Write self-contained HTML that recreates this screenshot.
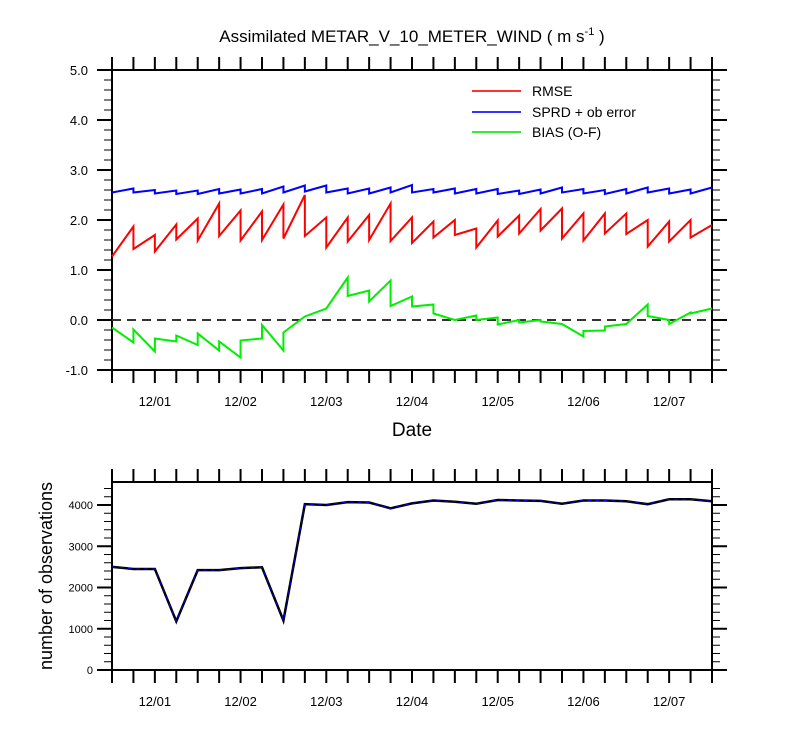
<!DOCTYPE html>
<html><head><meta charset="utf-8"><style>
body{margin:0;background:#fff}
svg{display:block;font-family:"Liberation Sans",sans-serif}
</style></head><body>
<svg id="chart" width="800" height="750" xmlns="http://www.w3.org/2000/svg"></svg>
<script>
const dayLabels=["12/01","12/02","12/03","12/04","12/05","12/06","12/07"];
const rmseF=[null,1.87,1.70,1.91,2.03,2.33,2.19,2.17,2.31,2.50,2.05,2.05,2.10,2.33,2.05,1.97,2.00,1.83,1.99,2.09,2.22,2.23,2.13,2.13,2.13,2.00,1.97,2.00,1.90];
const rmseA=[1.27,1.42,1.37,1.61,1.59,1.68,1.59,1.60,1.63,1.68,1.45,1.57,1.60,1.58,1.54,1.65,1.70,1.45,1.67,1.73,1.79,1.63,1.59,1.73,1.72,1.47,1.57,1.65,null];
const sprdF=[null,2.63,2.60,2.59,2.59,2.62,2.61,2.62,2.67,2.69,2.69,2.63,2.63,2.65,2.70,2.62,2.63,2.62,2.62,2.59,2.61,2.65,2.62,2.60,2.62,2.65,2.63,2.61,2.65];
const sprdA=[2.55,2.55,2.53,2.52,2.52,2.53,2.53,2.53,2.55,2.57,2.55,2.53,2.53,2.55,2.55,2.55,2.53,2.53,2.52,2.52,2.53,2.55,2.53,2.52,2.53,2.55,2.53,2.53,null];
const biasF=[null,-0.45,-0.63,-0.43,-0.50,-0.61,-0.75,-0.37,-0.61,0.07,0.23,0.85,0.59,0.79,0.47,0.31,0.00,0.09,0.05,0.00,0.00,-0.08,-0.33,-0.21,-0.08,0.31,0.00,0.15,0.23];
const biasA=[-0.15,-0.19,-0.37,-0.31,-0.27,-0.43,-0.41,-0.10,-0.25,0.07,0.23,0.48,0.37,0.28,0.27,0.13,0.00,0.00,-0.09,-0.05,-0.03,-0.08,-0.22,-0.13,-0.08,0.08,-0.08,0.13,null];
const nobs=[2500,2450,2450,1180,2420,2420,2470,2490,1200,4020,4000,4070,4060,3920,4040,4110,4080,4030,4120,4110,4100,4030,4110,4110,4090,4020,4140,4140,4090];
const yTicksTop=["5.0","4.0","3.0","2.0","1.0","0.0","-1.0"];
const yTicksBot=[0,1000,2000,3000,4000];

const svg=document.getElementById('chart');
const NS="http://www.w3.org/2000/svg";
function mk(t,a,name){const e=document.createElementNS(NS,t);for(const k in a)e.setAttribute(k,a[k]);


svg.appendChild(e);return e;}
const X0=112,X1=712,N=28;
const xs=k=>X0+(X1-X0)*k/N;
const yt=v=>320-50*v;
const yb=v=>670-v*0.04125;

function frame(top,bot,name){
  mk('rect',{x:X0,y:top,width:X1-X0,height:bot-top,fill:'none',stroke:'#000','stroke-width':2},name+'-frame');
  for(let k=0;k<=N;k++){const x=xs(k);
    mk('line',{x1:x,x2:x,y1:top,y2:top-13,stroke:'#000','stroke-width':2},name+'-x-tick');
    mk('line',{x1:x,x2:x,y1:bot,y2:bot+13,stroke:'#000','stroke-width':2},name+'-x-tick');}
  dayLabels.forEach((l,i)=>{const t=mk('text',{x:xs(2+4*i),y:bot+36,'text-anchor':'middle','font-size':13},'x-tick-label');t.textContent=l;});
}
frame(70,370,'top-plot');
for(let i=0;i<=30;i++){const y=70+i*10;const maj=i%5==0;
  mk('line',{x1:X0,x2:X0-(maj?15:8),y1:y,y2:y,stroke:'#000','stroke-width':maj?2:1},'y-tick');
  mk('line',{x1:X1,x2:X1+(maj?15:8),y1:y,y2:y,stroke:'#000','stroke-width':maj?2:1},'y-tick');}
yTicksTop.forEach((l,i)=>{const t=mk('text',{x:88,y:70+i*50+5,'text-anchor':'end','font-size':13},'y-tick-label');t.textContent=l;});
mk('line',{x1:X0,x2:X1,y1:yt(0),y2:yt(0),stroke:'#333','stroke-width':2,'stroke-dasharray':'9,6'},'zero-line');

function saw(F,A,col,name){let d='';
  for(let k=0;k<=N;k++){const x=xs(k);
    if(F[k]!=null)d+=(d?'L':'M')+x+','+yt(F[k]);
    if(A[k]!=null)d+=(d?'L':'M')+x+','+yt(A[k]);}
  mk('path',{d:d,fill:'none',stroke:col,'stroke-width':2},name);}
saw(sprdF,sprdA,'#0000ff','sprd-line');
saw(rmseF,rmseA,'#ff0000','rmse-line');
saw(biasF,biasA,'#00ee00','bias-line');

[['RMSE','#ff3333',91],['SPRD + ob error','#3333ff',112],['BIAS (O-F)','#33ee33',132]].forEach(([l,c,y])=>{
  mk('line',{x1:472,x2:521,y1:y,y2:y,stroke:c,'stroke-width':2},'legend-line');
  const t=mk('text',{x:532,y:y+5,'font-size':14},'legend-entry');t.textContent=l;});

const ti=mk('text',{x:412,y:42,'text-anchor':'middle','font-size':17},'chart-title');
ti.innerHTML='Assimilated METAR_V_10_METER_WIND ( m s<tspan dy="-7" font-size="11">-1</tspan><tspan dy="7"> )</tspan>';
const xt=mk('text',{x:412,y:436,'text-anchor':'middle','font-size':19},'x-axis-title');xt.textContent='Date';

frame(482,670,'bottom-plot');
for(let v=0;v<=4500;v+=200){const y=yb(v);const maj=v%1000==0;
  mk('line',{x1:X0,x2:X0-(maj?15:8),y1:y,y2:y,stroke:'#000','stroke-width':maj?2:1},'y-tick');
  mk('line',{x1:X1,x2:X1+(maj?15:8),y1:y,y2:y,stroke:'#000','stroke-width':maj?2:1},'y-tick');}
yTicksBot.forEach(v=>{const t=mk('text',{x:93,y:yb(v)+4,'text-anchor':'end','font-size':11},'y-tick-label');t.textContent=v;});
const yl=mk('text',{x:0,y:0,'text-anchor':'middle','font-size':18,transform:'translate(52,576) rotate(-90)'},'y-axis-title');yl.textContent='number of observations';
let d='';nobs.forEach((v,k)=>{d+=(k?'L':'M')+xs(k)+','+yb(v);});
mk('path',{d:d,fill:'none',stroke:'#000','stroke-width':2.5},'nobs-line');
mk('path',{d:d,fill:'none',stroke:'#0000ff','stroke-width':1,'stroke-dasharray':'4,4'},'nobs-used-line');
</script>
</body></html>
